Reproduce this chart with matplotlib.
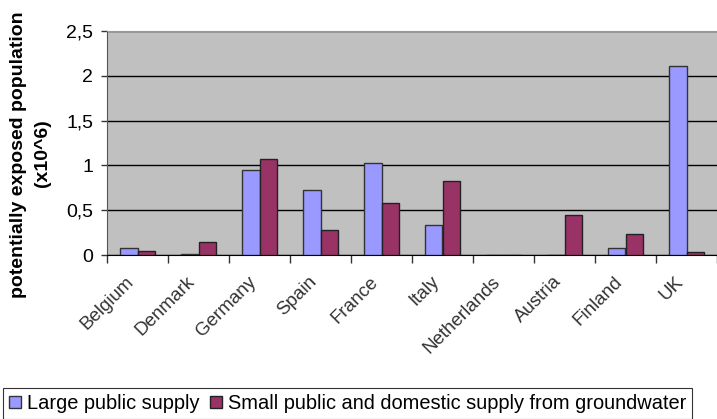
import numpy as np
import matplotlib.pyplot as plt
from matplotlib import ticker
from matplotlib.transforms import ScaledTranslation

plt.rcParams['font.family'] = ['Liberation Sans', 'DejaVu Sans']

# 데이터 (x10^6)
countries = ['Belgium', 'Denmark', 'Germany', 'Spain', 'France', 'Italy',
             'Netherlands', 'Austria', 'Finland', 'UK']
large_public = [0.08, 0.01, 0.95, 0.72, 1.03, 0.33, 0.0, 0.0, 0.08, 2.11]
small_domestic = [0.045, 0.14, 1.07, 0.275, 0.58, 0.83, 0.0, 0.45, 0.235, 0.03]

fig = plt.figure(figsize=(7.17, 4.19), dpi=100)
ax = fig.add_axes([107 / 717, 1 - 255 / 419, 610 / 717, 224 / 419])
ax.set_facecolor('#C0C0C0')

x = np.arange(len(countries))
w = 1 / 3.5
ax.bar(x - w / 2, large_public, w, color='#9999FF', edgecolor='#333333',
       linewidth=1, label='Large public supply', zorder=3)
ax.bar(x + w / 2, small_domestic, w, color='#993366', edgecolor='#222222',
       linewidth=1, label='Small public and domestic supply from groundwater', zorder=3)

ax.set_xlim(-0.5, len(countries) - 0.5)
ax.set_ylim(0, 2.5)
ax.yaxis.set_major_locator(ticker.MultipleLocator(0.5))
ax.yaxis.set_major_formatter(ticker.FuncFormatter(
    lambda v, p: ('%g' % v).replace('.', ',')))
ax.grid(axis='y', color='black', linewidth=1, zorder=1)

# 카테고리 경계 눈금
ax.set_xticks(np.arange(len(countries) + 1) - 0.5, minor=True)
ax.tick_params(axis='x', which='minor', length=6, width=1, color='#333333')
ax.set_xticks(x)
ax.tick_params(axis='x', which='major', length=0, pad=13)
ax.set_xticklabels(countries, rotation=45, ha='right', rotation_mode='anchor',
                   fontsize=13.5, color='#333333')
for lbl in ax.get_xticklabels():
    lbl.set_transform(lbl.get_transform() + ScaledTranslation(-0.12, 0, fig.dpi_scale_trans))
ax.tick_params(axis='y', length=4, width=1, color='#333333', labelsize=14, pad=6)

ax.spines['top'].set_color('#999999')
ax.spines['right'].set_visible(False)
ax.spines['left'].set_color('#555555')
ax.spines['bottom'].set_color('black')

# y축 제목 (두 줄)
fig.text(19 / 717, 1 - 155 / 419, 'potentially exposed population', rotation=90,
         ha='center', va='center', fontsize=14, fontweight='bold')
fig.text(43 / 717, 1 - 153 / 419, '(x10^6)', rotation=90,
         ha='center', va='center', fontsize=14, fontweight='bold')

leg = fig.legend(loc='upper left', bbox_to_anchor=(3 / 717, 1 - 388 / 419),
                 ncol=2, fontsize=14.4, frameon=True, fancybox=False,
                 handlelength=0.6, handleheight=0.6, handletextpad=0.3,
                 columnspacing=0.5, borderpad=0.3, borderaxespad=0)
leg.get_frame().set_edgecolor('black')
leg.get_frame().set_linewidth(0.8)

fig.savefig('out.png', dpi=100, facecolor='white')
